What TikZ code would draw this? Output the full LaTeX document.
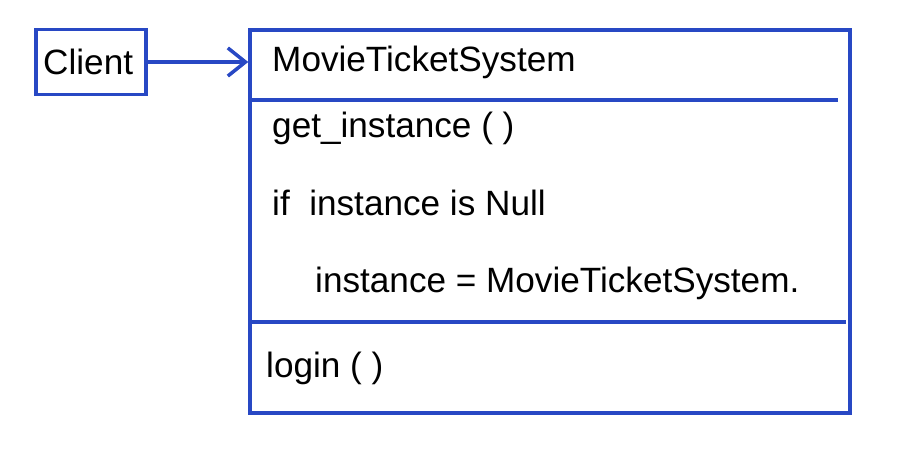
\documentclass[tikz,border=0pt]{standalone}
\usepackage{fontspec}
\setmainfont{Liberation Sans}
\usetikzlibrary{arrows.meta,positioning}
\definecolor{penblue}{RGB}{40,72,196}

\begin{document}
\begin{tikzpicture}[
    x=0.03cm, y=-0.03cm,
    box/.style={rectangle, draw=penblue, line width=3pt, inner sep=0pt},
    label/.style={anchor=west, inner sep=0pt, font=\fontsize{30}{33}\selectfont},
    divider/.style={draw=penblue, line width=3pt},
    link/.style={draw=penblue, line width=3pt, -{Straight Barb[length=15pt,width=24pt]}}
]
\useasboundingbox[fill=white] (0,0) rectangle (907,458);

% Boxes
\node[box, minimum width=3.3cm, minimum height=1.95cm] (client) at (91,62) {};
\node[box, minimum width=18cm, minimum height=11.49cm] (system) at (550,221.5) {};

% Compartments
\draw[divider] (system.west |- 0,100) -- (838,100);
\draw[divider] (system.west |- 0,322) -- (846,322);

% Texts
\node[label] (clientname) at (43,62) {Client};
\node[label] (classname) at (272,62) {MovieTicketSystem};
\node[label] (getinst) at (272,128) {get\_instance ( )};
\node[label] (ifnull) at (272,203) {if\ \ instance is Null};
\node[label] (assign) at (315,283) {instance = MovieTicketSystem.};
\node[label] (login) at (266,368) {login ( )};

% Connection
\draw[link] (client.east) -- (system.west |- client.east);
\end{tikzpicture}
\end{document}
